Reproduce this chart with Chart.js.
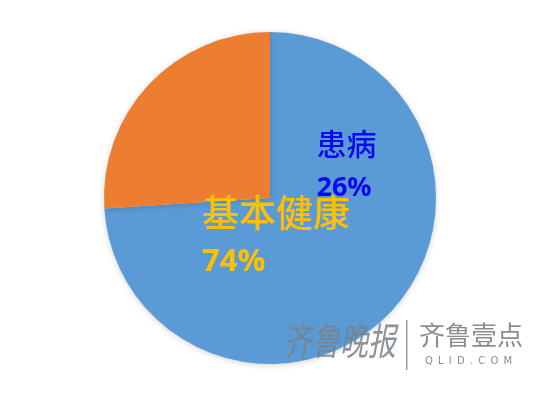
<!DOCTYPE html>
<html>
<head>
<meta charset="utf-8">
<script src="https://cdn.jsdelivr.net/npm/chart.js@4"></script>
<style>
  html, body { margin: 0; padding: 0; background: #ffffff; }
  #wrap { position: relative; width: 550px; height: 398px; }
  canvas { display: block; }
</style>
</head>
<body>
<div id="wrap"><canvas id="pie" width="550" height="398"></canvas></div>
<script>
// Survey split: healthy vs. ill
const categories = ['基本健康', '患病'];
const shares = [74, 26];
const sliceColors = ['#5b9bd5', '#ed7d31'];
const labelColors = ['#ffc000', '#0a0af0'];

// Soft drop shadow under the pie
const pieShadow = {
  id: 'pieShadow',
  beforeDatasetsDraw(chart) {
    const ctx = chart.ctx;
    ctx.save();
    ctx.shadowColor = 'rgba(0,0,0,0.18)';
    ctx.shadowBlur = 6;
    ctx.shadowOffsetY = 1;
  },
  afterDatasetsDraw(chart) {
    chart.ctx.restore();
  }
};

// Category name + percentage drawn on the pie
const sliceLabels = {
  id: 'sliceLabels',
  afterDatasetsDraw(chart) {
    const ctx = chart.ctx;
    const arc = chart.getDatasetMeta(0).data[0];
    const cx = arc.x, cy = arc.y, r = arc.outerRadius;
    const total = shares.reduce((a, b) => a + b, 0);
    // offsets are fractions of the radius from the centre
    const spots = [
      { dx: -0.41, dy: 0.00, nameSize: 37, nameWeight: '500', pctSize: 31, gap: 52 },
      { dx: 0.28, dy: -0.40, nameSize: 30, nameWeight: '500', pctSize: 27, gap: 46 }
    ];
    ctx.save();
    ctx.textAlign = 'left';
    ctx.textBaseline = 'top';
    categories.forEach((name, i) => {
      const s = spots[i];
      const x = cx + s.dx * r;
      const y = cy + s.dy * r;
      ctx.fillStyle = labelColors[i];
      ctx.font = s.nameWeight + ' ' + s.nameSize + 'px "Noto Sans CJK SC"';
      ctx.fillText(name, x, y - s.nameSize * 0.1);
      ctx.font = 'bold ' + s.pctSize + 'px "Open Sans"';
      ctx.fillText(Math.round(shares[i] / total * 100) + '%', x, y + s.gap - s.pctSize * 0.12);
    });
    ctx.restore();
  }
};

// Publisher mark in the lower right corner
const publisherMark = {
  id: 'publisherMark',
  afterDraw(chart) {
    const ctx = chart.ctx;
    ctx.save();
    ctx.textBaseline = 'top';
    ctx.fillStyle = 'rgba(120,128,136,0.85)';
    ctx.save();
    ctx.translate(284, 322);
    ctx.scale(1, 1.35);
    ctx.font = 'italic 28px "Noto Sans CJK SC"';
    ctx.fillText('齐鲁晚报', 0, 0);
    ctx.restore();
    ctx.fillStyle = 'rgba(130,130,130,0.8)';
    ctx.fillRect(406, 320, 1.5, 50);
    ctx.fillStyle = '#8c8c8c';
    ctx.font = '26px "Noto Sans CJK SC"';
    ctx.fillText('齐鲁壹点', 419, 322);
    ctx.font = '10px "DejaVu Sans"';
    ctx.letterSpacing = '5.2px';
    ctx.fillText('QLID.COM', 425, 356);
    ctx.restore();
  }
};

new Chart(document.getElementById('pie'), {
  type: 'pie',
  data: {
    labels: categories,
    datasets: [{
      data: shares,
      backgroundColor: sliceColors,
      borderWidth: 0,
      hoverOffset: 0
    }]
  },
  options: {
    responsive: false,
    animation: false,
    layout: { padding: { left: 104, right: 114, top: 32, bottom: 34 } },
    plugins: {
      legend: { display: false },
      tooltip: { enabled: false }
    }
  },
  plugins: [pieShadow, sliceLabels, publisherMark]
});
</script>
</body>
</html>
